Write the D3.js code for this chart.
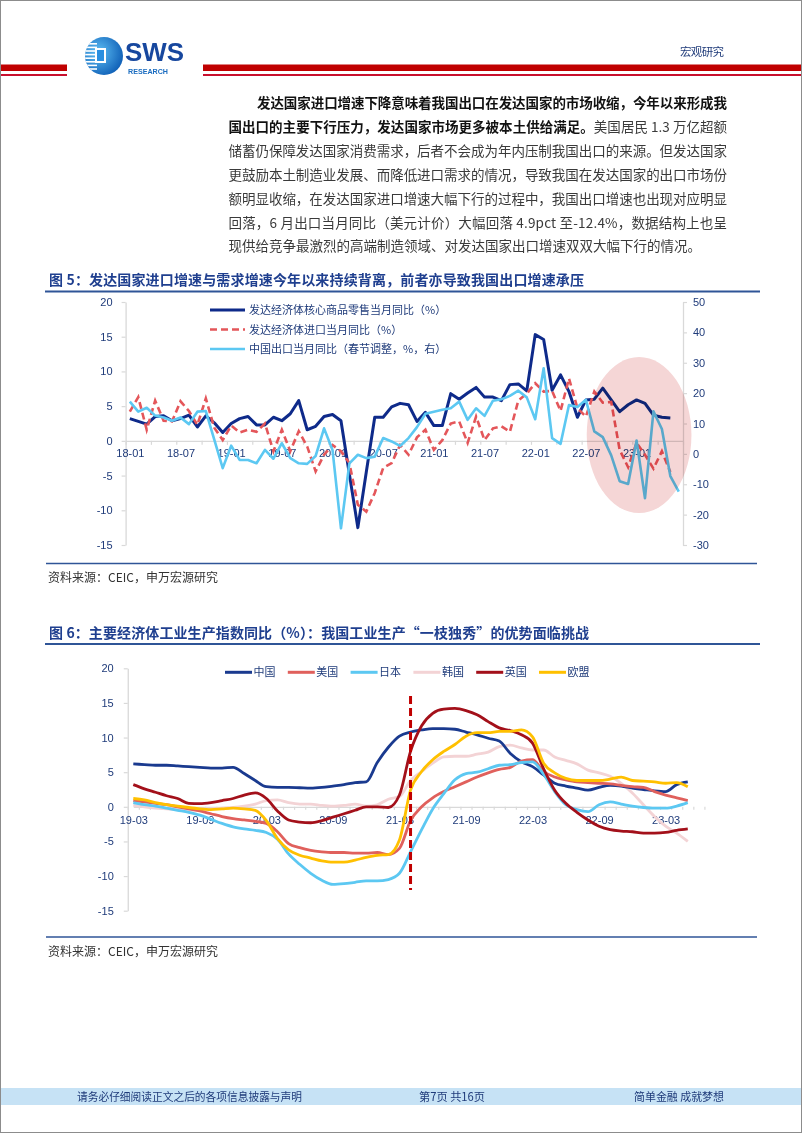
<!DOCTYPE html>
<html><head><meta charset="utf-8">
<script src="https://cdn.jsdelivr.net/npm/d3@7"></script>
<style>body{margin:0;background:#fff}svg{display:block}</style>
</head><body>
<svg id="page" width="802" height="1133"></svg>
<script>
// ---------------- DATA ----------------
// Figure 5 (monthly 18-01 .. 23-06)
const c1Categories = d3.range(66).map(i => { const y = 18 + Math.floor(i / 12), m = i % 12 + 1; return y + "-" + String(m).padStart(2, "0"); });
const c1TickLabels = ["18-01","18-07","19-01","19-07","20-01","20-07","21-01","21-07","22-01","22-07","23-01"];
const c1LeftTicks = [-15,-10,-5,0,5,10,15,20];
const c1RightTicks = [-30,-20,-10,0,10,20,30,40,50];
const c1SeriesNames = ["发达经济体核心商品零售当月同比（%）","发达经济体进口当月同比（%）","中国出口当月同比（春节调整，%，右）"];
const coreRetail = [3.2,2.8,2.4,3.5,3.6,2.9,3.2,3.7,2.0,3.6,2.6,1.2,2.5,3.2,3.5,2.3,2.3,3.4,2.9,3.9,5.8,1.6,2.1,3.5,3.8,2.9,-4.8,-12.5,-4.5,3.4,3.4,4.9,5.4,5.2,2.8,4.1,2.2,2.2,6.8,6.0,6.9,7.7,6.3,6.3,5.8,8.1,8.2,7.2,15.3,14.6,7.3,9.5,7.1,3.4,5.9,6.0,7.6,5.9,4.2,5.2,5.9,5.4,3.7,3.4,3.3];
const devImports = [4.2,6.3,1.6,5.8,2.9,2.8,5.7,4.3,2.3,6.1,1.9,0.1,2.2,1.2,1.6,1.3,2.5,-1.5,1.6,-1.5,1.4,-0.8,-4.4,-2.0,-0.6,-1.5,-3.2,-9.2,-10.2,-7.5,-3.9,-3.2,-0.6,-2.0,0.5,1.6,-1.3,0.1,2.5,2.8,-0.3,3.5,0.1,1.8,2.1,1.3,5.8,6.8,8.3,7.1,7.2,4.3,9.0,4.7,3.5,7.1,5.5,5.6,-1.3,-3.8,-0.3,-2.0,-4.0,-1.5,-4.5];
const chinaExports = [17.2,13.9,15.2,12.6,12.0,10.9,12.0,9.8,13.9,14.1,4.7,-4.7,2.7,-2.0,-2.0,-3.1,1.3,-1.6,3.5,-1.4,-3.1,-3.3,-0.7,8.4,1.3,-24.5,-3.1,-0.3,-1.4,-0.9,5.2,4.1,2.6,5.2,8.8,13.2,13.9,14.5,15.0,17.2,11.2,15.0,12.5,17.5,18.0,19.1,20.8,18.6,11.4,28.2,5.2,3.3,16.1,15.4,17.8,7.4,5.5,-0.5,-9.0,-9.9,4.4,-14.6,14.0,8.2,-7.3,-12.4];
// highlight ellipse (category index / right-axis units)
const c1Highlight = {cx: 60.3, cy: 6.2, rx: 6.2, ry: 25.7};

// Figure 6 (monthly 19-03 .. 23-05)
const c2TickLabels = ["19-03","19-09","20-03","20-09","21-03","21-09","22-03","22-09","23-03"];
const c2YTicks = [-15,-10,-5,0,5,10,15,20];
const c2SeriesNames = ["中国","美国","日本","韩国","英国","欧盟"];
const ipChina = [6.2,6.1,6.0,6.0,5.9,5.8,5.7,5.6,5.6,5.7,4.8,3.8,2.9,2.8,2.8,2.75,2.7,2.8,3.0,3.2,3.5,3.6,6.4,8.6,10.2,10.8,11.1,11.3,11.3,11.2,10.8,10.4,9.9,9.5,7.7,6.5,5.8,4.6,3.4,3.0,2.7,2.4,2.8,3.1,3.0,2.7,2.5,2.3,2.2,3.2,3.6];
const ipUS = [0.9,0.7,0.5,0.3,0.0,-0.3,-0.6,-1.0,-1.4,-1.7,-1.9,-2.1,-2.4,-3.6,-5.3,-5.9,-6.3,-6.5,-6.6,-6.6,-6.7,-6.7,-6.6,-6.9,-6.0,-2.0,0.0,1.3,2.2,2.9,3.6,4.3,4.9,5.4,5.7,6.6,6.8,5.1,4.3,3.9,3.6,3.5,3.4,3.3,3.1,2.9,2.8,2.2,1.7,1.3,0.9];
const ipJapan = [0.6,0.3,0.1,-0.2,-0.5,-0.8,-1.2,-1.8,-2.4,-2.9,-3.2,-3.4,-3.7,-4.7,-6.8,-8.3,-9.6,-10.6,-11.2,-11.1,-10.9,-10.7,-10.7,-10.5,-9.6,-6.5,-3.3,-0.3,1.9,3.9,4.8,5.0,5.5,6.0,6.1,6.4,6.5,4.7,2.2,0.3,-0.4,-0.7,0.3,0.7,0.4,0.1,-0.1,-0.2,-0.2,0.1,0.6];
const ipKorea = [0.2,0.0,-0.2,-0.3,-0.4,-0.5,-0.4,-0.3,-0.2,-0.1,0.1,0.4,0.9,1.0,0.6,0.4,0.4,0.2,0.1,0.2,0.4,0.1,0.3,1.1,1.5,3.8,5.1,6.3,7.2,7.3,7.3,7.6,7.9,8.7,8.9,8.5,8.2,8.2,7.2,6.7,6.2,5.3,4.9,4.4,3.4,2.0,0.3,-1.4,-2.8,-3.8,-5.0];
const ipUK = [3.2,2.6,2.1,1.6,1.2,0.5,0.45,0.6,0.9,1.2,1.7,2.0,1.2,-0.6,-1.9,-2.2,-2.3,-2.0,-1.5,-1.0,-0.5,0.0,0.0,-0.1,1.7,8.0,11.7,13.5,14.1,14.2,13.9,13.3,12.3,11.4,11.0,10.4,9.2,5.5,2.4,0.5,-0.8,-1.9,-2.8,-3.3,-3.5,-3.6,-3.8,-3.8,-3.7,-3.4,-3.2];
const ipEU = [1.2,1.0,0.6,0.3,0.1,-0.1,-0.3,-0.4,-0.3,-0.2,-0.3,-0.5,-2.0,-4.6,-6.2,-7.0,-7.4,-7.8,-8.0,-8.0,-7.7,-7.3,-7.0,-6.9,-4.8,2.4,5.1,6.8,8.0,9.0,10.2,10.7,10.7,10.9,10.9,11.1,10.1,6.3,4.9,4.1,3.8,3.8,3.8,4.0,4.3,3.8,3.7,3.6,3.4,3.5,2.9];
const c2Marker = {index: 25, from: 16, to: -12};

// ---------------- STYLE ----------------
const CJK = "'Noto Sans CJK SC','Noto Sans',sans-serif";
const NUM = "'Liberation Sans','Noto Sans CJK SC',sans-serif";
const TXT = "#1f3b7a";
const AXIS = "#d9d9d9";
const fmt = d => String(d);

const svg = d3.select("#page");
svg.append("rect").attr("x",0.5).attr("y",0.5).attr("width",801).attr("height",1132)
  .attr("fill","#fff").attr("stroke","#8c8c8c");

// ---------------- HEADER ----------------
const hdr = svg.append("g");
[[1,66],[203,598]].forEach(([x,w]) => {
  hdr.append("rect").attr("x",x).attr("y",64.5).attr("width",w).attr("height",6.5).attr("fill","#c00000");
  hdr.append("rect").attr("x",x).attr("y",74).attr("width",w).attr("height",2).attr("fill","#c8102e");
});
const defs = svg.append("defs");
const rg = defs.append("radialGradient").attr("id","lg").attr("cx","35%").attr("cy","40%").attr("r","70%");
rg.append("stop").attr("offset","0%").attr("stop-color","#5fc0f5");
rg.append("stop").attr("offset","100%").attr("stop-color","#0d5db5");
defs.append("clipPath").attr("id","lc").append("circle").attr("cx",104).attr("cy",56).attr("r",19);
hdr.append("circle").attr("cx",104).attr("cy",56).attr("r",19).attr("fill","url(#lg)");
const lgG = hdr.append("g").attr("clip-path","url(#lc)");
d3.range(43,71,3.6).forEach(y => lgG.append("rect").attr("x",84).attr("y",y).attr("width",13).attr("height",1.6).attr("fill","#fff"));
lgG.append("rect").attr("x",95).attr("y",48).attr("width",11).attr("height",15).attr("fill","#fff");
lgG.append("rect").attr("x",97).attr("y",50).attr("width",7).attr("height",11).attr("fill","#2a8fe0");
hdr.append("text").attr("x",125).attr("y",61).attr("font-family",NUM).attr("font-weight","bold")
  .attr("font-size",26).attr("fill","#17479e").attr("textLength",59).attr("lengthAdjust","spacingAndGlyphs").text("SWS");
hdr.append("text").attr("x",128).attr("y",73.5).attr("font-family",NUM).attr("font-weight","bold")
  .attr("font-size",7).attr("fill","#1a6cc0").attr("textLength",40).attr("lengthAdjust","spacingAndGlyphs").text("RESEARCH");
hdr.append("text").attr("x",680).attr("y",56).attr("font-family",CJK).attr("font-size",11.5)
  .attr("fill",TXT).attr("textLength",44).text("宏观研究");

// ---------------- PARAGRAPH ----------------
const paraLines = [
  [["发达国家进口增速下降意味着我国出口在发达国家的市场收缩，今年以来形成我",1]],
  [["国出口的主要下行压力，发达国家市场更多被本土供给满足。",1],["美国居民 1.3 万亿超额",0]],
  [["储蓄仍保障发达国家消费需求，后者不会成为年内压制我国出口的来源。但发达国家",0]],
  [["更鼓励本土制造业发展、而降低进口需求的情况，导致我国在发达国家的出口市场份",0]],
  [["额明显收缩，在发达国家进口增速大幅下行的过程中，我国出口增速也出现对应明显",0]],
  [["回落，6 月出口当月同比（美元计价）大幅回落 4.9pct 至-12.4%，数据结构上也呈",0]],
  [["现供给竞争最激烈的高端制造领域、对发达国家出口增速双双大幅下行的情况。",0]]
];
paraLines.forEach((segs, li) => {
  const x0 = li === 0 ? 257 : 228.5, right = 727;
  const t = svg.append("text").attr("x",x0).attr("y",108 + li*23.9)
    .attr("font-family",CJK).attr("font-size",13.5);
  segs.forEach(([s,b]) => t.append("tspan").attr("font-weight", b ? "bold" : "normal")
    .attr("fill", b ? "#111" : "#3a3a3a").text(s));
  if (li < paraLines.length - 1) {
    const n = segs.reduce((a,s) => a + s[0].length, 0);
    const w = t.node().getComputedTextLength();
    t.attr("letter-spacing", ((right - x0) - w) / (n - 1));
  }
});

// ---------------- TITLES / SOURCES ----------------
function title(y, text, len) {
  svg.append("text").attr("x",49).attr("y",y).attr("font-family",CJK).attr("font-weight","bold")
    .attr("font-size",14).attr("fill","#1f3f8f").attr("textLength",len).attr("lengthAdjust","spacing").text(text);
  svg.append("line").attr("x1",45).attr("x2",760).attr("y1",y+6.5).attr("y2",y+6.5)
    .attr("stroke","#2f5597").attr("stroke-width",1.8);
}
title(285, "图 5：发达国家进口增速与需求增速今年以来持续背离，前者亦导致我国出口增速承压", 535);
title(637.5, "图 6：主要经济体工业生产指数同比（%）：我国工业生产“一枝独秀”的优势面临挑战", 540);
function source(y) {
  svg.append("line").attr("x1",46).attr("x2",757).attr("y1",y).attr("y2",y).attr("stroke","#2f5597").attr("stroke-width",1.3);
  svg.append("text").attr("x",48).attr("y",y+18.5).attr("font-family",CJK).attr("font-size",12)
    .attr("fill","#333").text("资料来源：CEIC，申万宏源研究");
}
source(563.5);
source(937);

function styleAxis(g, fontSize) {
  g.select(".domain").attr("stroke",AXIS).attr("stroke-width",1.3);
  g.selectAll(".tick line").attr("stroke",AXIS).attr("stroke-width",1.2);
  g.selectAll("text").attr("fill",TXT).attr("font-family",NUM).attr("font-size",fontSize || 11);
}

// ---------------- FIGURE 5 ----------------
{
  const x = d3.scaleLinear().domain([-0.5, 65.5]).range([125.6, 683]);
  const yL = d3.scaleLinear().domain([-15, 20]).range([545, 302]);
  const yR = d3.scaleLinear().domain([-30, 50]).range([545, 302]);
  const g = svg.append("g");

  const la = g.append("g").attr("transform",`translate(${x(-0.5)},0)`)
    .call(d3.axisLeft(yL).tickValues(c1LeftTicks).tickSize(4).tickSizeOuter(0).tickPadding(9).tickFormat(fmt));
  styleAxis(la);
  const ra = g.append("g").attr("transform",`translate(${x(65.5)},0)`)
    .call(d3.axisRight(yR).tickValues(c1RightTicks).tickSize(4).tickSizeOuter(0).tickPadding(6).tickFormat(fmt));
  styleAxis(ra);
  const xa = g.append("g").attr("transform",`translate(0,${yL(0)})`)
    .call(d3.axisBottom(x).tickValues(d3.range(-0.5, 66, 3)).tickSize(4).tickSizeOuter(0).tickFormat(""));
  styleAxis(xa);
  const xl = g.append("g").attr("transform",`translate(0,${yL(0)})`)
    .call(d3.axisBottom(x).tickValues(c1TickLabels.map(l => c1Categories.indexOf(l))).tickSize(0).tickPadding(8.5)
      .tickFormat(i => c1Categories[i]));
  xl.select(".domain").remove();
  styleAxis(xl);

  const lineL = d3.line().x((d,i) => x(i)).y(d => yL(d));
  const lineR = d3.line().x((d,i) => x(i)).y(d => yR(d));
  g.append("path").attr("d", lineL(coreRetail)).attr("fill","none").attr("stroke","#0e2a8a")
    .attr("stroke-width",3).attr("stroke-linejoin","round");
  g.append("path").attr("d", lineL(devImports)).attr("fill","none").attr("stroke","#e4565a")
    .attr("stroke-width",2.6).attr("stroke-dasharray","7,4");
  g.append("path").attr("d", lineR(chinaExports)).attr("fill","none").attr("stroke","#5cc8f2")
    .attr("stroke-width",2.6).attr("stroke-linejoin","round");

  const h = c1Highlight;
  g.append("ellipse").attr("cx", x(h.cx)).attr("cy", yR(h.cy))
    .attr("rx", x(h.cx + h.rx) - x(h.cx)).attr("ry", yR(0) - yR(h.ry))
    .attr("fill","#f5d6d6").style("mix-blend-mode","multiply");

  const leg = g.append("g");
  const styles = [{c:"#0e2a8a",w:3,d:null},{c:"#e4565a",w:2.6,d:"7,4"},{c:"#5cc8f2",w:2.6,d:null}];
  c1SeriesNames.forEach((name, k) => {
    const yy = 310 + k*19.5;
    leg.append("line").attr("x1",210).attr("x2",245).attr("y1",yy).attr("y2",yy)
      .attr("stroke",styles[k].c).attr("stroke-width",styles[k].w).attr("stroke-dasharray",styles[k].d);
    leg.append("text").attr("x",249).attr("y",yy+4).attr("font-family",CJK).attr("font-size",11)
      .attr("fill",TXT).text(name);
  });
}

// ---------------- FIGURE 6 ----------------
{
  const x = d3.scaleLinear().domain([0, 48]).range([133.3, 665.6]);
  const y = d3.scaleLinear().domain([-15, 20]).range([910.7, 668.3]);
  const g = svg.append("g");
  const la = g.append("g").attr("transform",`translate(${x(-0.5)},0)`)
    .call(d3.axisLeft(y).tickValues(c2YTicks).tickSize(4).tickSizeOuter(0).tickPadding(10).tickFormat(fmt));
  styleAxis(la);
  const xa = g.append("g").attr("transform",`translate(0,${y(0)})`)
    .call(d3.axisBottom(x).tickValues(d3.range(-0.5, 52, 1)).tickSize(3).tickSizeOuter(0).tickFormat(""));
  styleAxis(xa);
  const xl = g.append("g").attr("transform",`translate(0,${y(0)})`)
    .call(d3.axisBottom(x).tickValues(c2TickLabels.map((l,i) => i*6)).tickSize(0).tickPadding(9)
      .tickFormat((d,i) => c2TickLabels[i]));
  xl.select(".domain").remove();
  styleAxis(xl);

  const series = [ipChina, ipUS, ipJapan, ipKorea, ipUK, ipEU];
  const colors = ["#1a3a8f","#e0605c","#5cc8f2","#f3d3d5","#a3101a","#ffc000"];
  const line = d3.line().x((d,i) => x(i)).y(d => y(d)).curve(d3.curveMonotoneX);
  const order = [3,0,1,2,4,5];
  order.forEach(k => g.append("path").attr("d", line(series[k])).attr("fill","none")
    .attr("stroke",colors[k]).attr("stroke-width",2.8).attr("stroke-linejoin","round"));

  g.append("line").attr("x1",x(c2Marker.index)).attr("x2",x(c2Marker.index))
    .attr("y1",y(c2Marker.from)).attr("y2",y(c2Marker.to))
    .attr("stroke","#c00000").attr("stroke-width",3).attr("stroke-dasharray","8,4");

  const leg = g.append("g");
  c2SeriesNames.forEach((name, k) => {
    const lx = 225 + k*62.8;
    leg.append("line").attr("x1",lx).attr("x2",lx+27).attr("y1",672.3).attr("y2",672.3)
      .attr("stroke",colors[k]).attr("stroke-width",3);
    leg.append("text").attr("x",lx+28.5).attr("y",676.3).attr("font-family",CJK).attr("font-size",11)
      .attr("fill",TXT).text(name);
  });
}

// ---------------- FOOTER ----------------
svg.append("rect").attr("x",1).attr("y",1088).attr("width",800).attr("height",17).attr("fill","#c6e2f5");
[["请务必仔细阅读正文之后的各项信息披露与声明",77,225],["第7页 共16页",419,66],["简单金融 成就梦想",634,90]]
  .forEach(([t,xx,len]) => svg.append("text").attr("x",xx).attr("y",1101).attr("font-family",CJK)
    .attr("font-size",11.5).attr("fill",TXT).attr("textLength",len).attr("lengthAdjust","spacingAndGlyphs").text(t));
</script>
</body></html>
